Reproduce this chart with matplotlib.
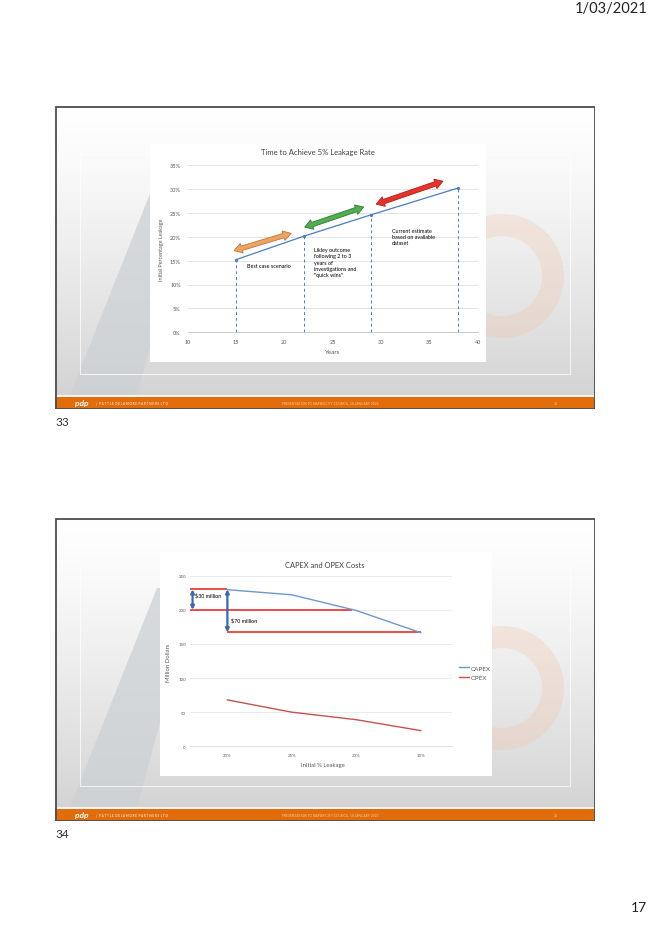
import numpy as np
import matplotlib
matplotlib.use("Agg")
import matplotlib.pyplot as plt
from matplotlib.patches import Rectangle, Polygon, Wedge
from matplotlib.transforms import IdentityTransform
from matplotlib.ticker import FuncFormatter

plt.rcParams['font.family'] = ['Lato', 'DejaVu Sans']

# ---- data: slide 33 ----
years = [15, 22, 29, 38]
leakage_pct = [15.2, 20.1, 24.6, 30.2]
scenario_labels = ["Best case scenario",
                   "Likley outcome\nfollowing 2 to 3\nyears of\ninvestigations and\n\"quick wins\"",
                   "Current estimate\nbased on available\ndataset"]

# ---- data: slide 34 ----
leakage_cats = ['30%', '25%', '20%', '15%']
capex = [229.5, 222, 199, 166.5]
opex = [68, 50, 39, 23]
ref_levels = [230, 200, 167]      # red reference lines
savings_labels = ["$30 million", "$70 million"]

W, H = 651, 928
fig = plt.figure(figsize=(W / 100, H / 100), dpi=100)
fig.patch.set_facecolor('white')


def px_axes(x, y, w, h, z=1):
    # axes from page pixel box (top-left origin)
    return fig.add_axes([x / W, 1 - (y + h) / H, w / W, h / H], zorder=z)


def ftext(x, y, s, **kw):
    return fig.text(x / W, 1 - y / H, s, **kw)


def double_arrow(ax, p0, p1, shaft, head_w, head_len, fc, ec):
    a = ax.transData.transform(p0)
    b = ax.transData.transform(p1)
    d = b - a
    L = np.hypot(*d)
    u = d / L
    n = np.array([-u[1], u[0]])
    local = [(0, 0), (head_len, head_w / 2), (head_len, shaft / 2),
             (L - head_len, shaft / 2), (L - head_len, head_w / 2), (L, 0),
             (L - head_len, -head_w / 2), (L - head_len, -shaft / 2),
             (head_len, -shaft / 2), (head_len, -head_w / 2)]
    pts = [a + s * u + t * n for s, t in local]
    ax.add_patch(Polygon(pts, closed=True, transform=IdentityTransform(),
                         fc=fc, ec=ec, lw=0.6, clip_on=False, zorder=6))


def slide(top, page_no, panel):
    ax = px_axes(55, top, 540, 303, z=0)
    ax.set_xlim(0, 540)
    ax.set_ylim(303, 0)
    ax.axis('off')
    # background gradient
    g = np.linspace(0, 1, 200) ** 1.3
    col = 1.0 - 0.17 * g
    img = np.dstack([col, col, col])[:, None, :].reshape(200, 1, 3)
    ax.imshow(img, extent=(0, 540, 289, 0), aspect='auto', zorder=0)
    # faint watermark shapes
    ax.add_patch(Polygon([(15, 289), (82, 289), (142, 70), (102, 70)],
                         fc='#CDD1D5', ec='none', alpha=0.75, zorder=1))
    ax.add_patch(Wedge((447, 170), 62, 0, 360, width=22, fc='#F0C4AA',
                       ec='none', alpha=0.3, zorder=1))
    # pasted image frame
    ax.add_patch(Rectangle((25, 48), 490, 220, fc='none', ec='white',
                           lw=0.8, alpha=0.7, zorder=2))
    # white chart panel
    px, py, pw, ph = panel
    ax.add_patch(Rectangle((px - 55, py - top), pw, ph, fc='white',
                           ec='none', zorder=3))
    # footer
    ax.add_patch(Rectangle((0, 289.3), 540, 1.6, fc='#F4F4F4', ec='none', zorder=3))
    ax.add_patch(Rectangle((0, 290.8), 540, 12.2, fc='#E36C0A', ec='none', zorder=3))
    ax.text(20, 297, 'pdp', color='white', fontsize=6, fontweight='bold',
            style='italic', va='center', zorder=4)
    ax.text(41, 296.8, '|   P A T T L E  D E L A M O R E  P A R T N E R S  L T D',
            color='#FBE3CF', fontsize=2.2, fontweight='bold', va='center', zorder=4)
    ax.text(275, 296.8, 'PRESENTATION TO NAPIER CITY COUNCIL, 18 JANUARY 2021',
            color='#F6C9A2', fontsize=2.4, ha='center', va='center', zorder=4)
    ax.text(501, 296.8, str(page_no), color='#F6C9A2', fontsize=2.4,
            ha='center', va='center', zorder=4)
    # slide border
    ax.add_patch(Rectangle((0.5, 0.5), 539, 302, fc='none', ec='#4D4D4D',
                           lw=1.3, zorder=5))
    ftext(55, 422.5 if page_no == 33 else 834.5, str(page_no), fontsize=8.5,
          color='#333333', va='center', ha='left')


# page header / footer
ftext(648, 9, '1/03/2021', fontsize=10.5, color='#222222', ha='right', va='center')
ftext(647, 908, '17', fontsize=10, color='#222222', ha='right', va='center')

slide(107, 33, (150, 145, 336, 218))
slide(519, 34, (160, 553, 332, 224))

grey = '#595959'

# ---------------- chart 1 ----------------
ax1 = px_axes(187.7, 166, 290, 167.3, z=2)
ax1.set_xlim(10, 40)
ax1.set_ylim(0, 35)
ax1.set_facecolor('none')
ax1.set_yticks(np.arange(0, 36, 5))
ax1.set_xticks(np.arange(10, 41, 5))
ax1.yaxis.set_major_formatter(FuncFormatter(lambda v, p: f'{v:.0f}%'))
ax1.grid(axis='y', color='#D9D9D9', lw=0.5)
ax1.set_axisbelow(True)
for s in ['top', 'right', 'left']:
    ax1.spines[s].set_visible(False)
ax1.spines['bottom'].set_color('#BFBFBF')
ax1.spines['bottom'].set_linewidth(0.6)
ax1.tick_params(length=0, labelsize=4, labelcolor=grey)
ax1.tick_params(axis='y', pad=5)
ax1.tick_params(axis='x', pad=5)
ax1.plot(years, leakage_pct, color='#4A7CC8', lw=0.9, marker='o', ms=1.3, zorder=4)
ax1.vlines(years, 0, leakage_pct, colors='#4A7CC8', linestyles=(0, (3, 3)), lw=0.7)

double_arrow(ax1, (14.8, 17.1), (20.7, 20.7), 4.5, 10, 8, '#F0A35E', '#B9783E')
double_arrow(ax1, (22.1, 22.0), (28.2, 26.2), 4.5, 10, 8, '#4FAE4F', '#357A35')
double_arrow(ax1, (29.5, 26.8), (36.4, 31.6), 4.5, 10, 8, '#E8322B', '#A82018')

ax1.text(16.1, 13.9, scenario_labels[0], fontsize=3.9, va='center', ha='left')
ax1.text(23.1, 17.8, scenario_labels[1], fontsize=3.9, va='top', ha='left',
         linespacing=1.3)
ax1.text(31.1, 21.8, scenario_labels[2], fontsize=3.9, va='top', ha='left',
         linespacing=1.3)

ftext(318, 153, 'Time to Achieve 5% Leakage Rate', fontsize=5.5, color='#404040',
      ha='center', va='center')
ftext(331.7, 353, 'Years', fontsize=4.5, color=grey, ha='center', va='center')
ftext(162, 250, 'Initial Percentage Leakage', fontsize=4, color=grey,
      ha='center', va='center', rotation=90)

# ---------------- chart 2 ----------------
ax2 = px_axes(190, 576.7, 261.7, 170.6, z=2)
x = np.arange(len(leakage_cats))
ax2.set_xlim(-0.58, 3.48)
ax2.set_ylim(0, 250)
ax2.set_facecolor('none')
ax2.set_yticks(np.arange(0, 251, 50))
ax2.set_xticks(x)
ax2.set_xticklabels(leakage_cats)
ax2.grid(axis='y', color='#E3E3E3', lw=0.5)
ax2.set_axisbelow(True)
for s in ['top', 'right', 'left']:
    ax2.spines[s].set_visible(False)
ax2.spines['bottom'].set_color('#CFCFCF')
ax2.spines['bottom'].set_linewidth(0.5)
ax2.tick_params(length=0, labelsize=3.2, labelcolor=grey)
ax2.tick_params(axis='y', pad=3)
ax2.tick_params(axis='x', pad=5)
ax2.plot(x, capex, color='#6F96D0', lw=1.0, label='CAPEX', zorder=4)
ax2.plot(x, opex, color='#C25450', lw=1.0, label='OPEX', zorder=4)

ax2.hlines(ref_levels[0], -0.58, 0, color='#E8302A', lw=1.2, zorder=3, clip_on=False)
ax2.hlines(ref_levels[1], -0.58, 1.93, color='#E8302A', lw=1.2, zorder=3, clip_on=False)
ax2.hlines(ref_levels[2], 0, 3, color='#E8302A', lw=1.2, zorder=3, clip_on=False)

arr = dict(arrowstyle='<|-|>', color='#3F67AD', lw=1.6, mutation_scale=5,
           shrinkA=0, shrinkB=0)
ax2.annotate('', xy=(-0.54, ref_levels[1]), xytext=(-0.54, ref_levels[0]),
             arrowprops=arr, zorder=5, annotation_clip=False)
ax2.annotate('', xy=(0.0, ref_levels[2]), xytext=(0.0, ref_levels[0]),
             arrowprops=arr, zorder=5)
ax2.text(-0.5, 222, savings_labels[0], fontsize=3.9, va='center', ha='left')
ax2.text(0.06, 185.5, savings_labels[1], fontsize=3.9, va='center', ha='left')

ax2.legend(loc='center left', bbox_to_anchor=(456 / W, 1 - 673.5 / H),
           bbox_transform=fig.transFigure, frameon=False, fontsize=4.5,
           handlelength=1.6, handletextpad=0.3, labelspacing=0.6,
           labelcolor=grey, borderpad=0)

ftext(325, 565.7, 'CAPEX and OPEX Costs', fontsize=5.4, color='#404040',
      ha='center', va='center')
ftext(323, 765.7, 'Initial % Leakage', fontsize=4.3, color=grey,
      ha='center', va='center')
ftext(168, 663, 'Million Dollars', fontsize=4.3, color=grey,
      ha='center', va='center', rotation=90)

fig.savefig('out.png', dpi=100, facecolor='white')
